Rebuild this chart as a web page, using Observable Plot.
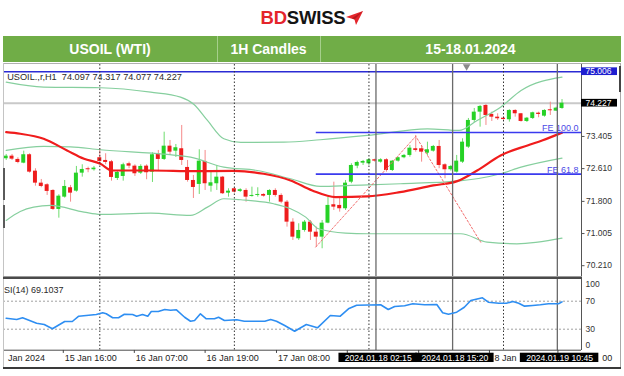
<!DOCTYPE html>
<html>
<head>
<meta charset="utf-8">
<script src="https://cdn.jsdelivr.net/npm/d3@7"></script>
<script src="https://cdn.jsdelivr.net/npm/@observablehq/plot@0.6"></script>
<style>
html,body{margin:0;padding:0;background:#fff;}
#root{position:relative;width:624px;height:376px;overflow:hidden;background:#fff;font-family:"Liberation Sans",Arial,sans-serif;}
.a{position:absolute;}
#logo{left:0;top:8px;width:624px;text-align:center;font-weight:bold;font-size:18.5px;line-height:20px;white-space:nowrap;letter-spacing:-0.2px;}
#logo .bd{color:#e4252b;} #logo .sw{color:#141414;}
#logo svg{vertical-align:-1px;margin-left:1px;}
#bar{left:3px;top:36px;width:618px;height:26px;background:#70ad47;}
.cell{position:absolute;top:0;height:26px;line-height:26px;text-align:center;color:#fff;font-weight:bold;font-size:14px;white-space:nowrap;}
.sep{position:absolute;top:0;width:1px;height:26px;background:#a6cf8c;}
.ln{position:absolute;}
</style>
</head>
<body>
<div id="root">
  <div id="logo" class="a"><span class="bd">BD</span><span class="sw">SWISS</span><svg width="17" height="14" viewBox="0 0 17 14"><polygon points="0,6 17,0 10,14 8.5,8.5" fill="#e4252b"/><polygon points="8.5,8.5 17,0 6,7.2" fill="#b51a1f"/></svg></div>
  <div id="bar" class="a"></div>
  <div id="mainWrap" class="a" style="left:0;top:62px;"></div>
  <div id="rsiWrap" class="a" style="left:0;top:278px;"></div>
  <!-- panel borders -->
  <div class="ln" style="left:3px;top:63px;width:618px;height:1px;background:#b0b0b0;"></div>
  <div class="ln" style="left:3px;top:63px;width:1px;height:305px;background:#c4c4c4;"></div>
  <div class="ln" style="left:3px;top:168px;width:2px;height:32px;background:#5a5a5a;"></div>
  <div class="ln" style="left:3px;top:205px;width:2px;height:23px;background:#5a5a5a;"></div>
  <div class="ln" style="left:3px;top:276px;width:579px;height:1px;background:#9a9a9a;"></div>
  <div class="ln" style="left:3px;top:277px;width:579px;height:2px;background:#4a4a4a;"></div>
  <div class="ln" style="left:620px;top:63px;width:1px;height:305px;background:#a8a8a8;"></div>
  <div class="ln" style="left:619px;top:66px;width:2px;height:26px;background:#444;"></div>
  <div class="ln" style="left:3px;top:367px;width:618px;height:2px;background:#3a3a3a;"></div>
</div>
<script>
// ---------- header ----------
const headerCells = ["USOIL (WTI)", "1H Candles", "15-18.01.2024"];

// ---------- candles (1H, USOIL) ----------
const open  = [72.854,72.918,72.837,72.745,72.953,72.547,72.251,72.211,72.070,71.601,71.905,72.137,72.053,72.498,72.607,72.582,
72.879,72.812,72.780,72.367,72.416,72.730,72.671,72.498,72.671,72.523,72.977,72.837,73.165,73.042,73.101,72.639,72.317,72.219,72.787,72.176,72.236,72.399,72.004,
72.112,72.046,72.070,71.922,71.947,71.971,71.947,72.070,71.947,71.781,71.287,70.876,71.081,71.287,71.039,70.916,71.262,71.717,71.700,71.618,72.275,72.671,72.745,
72.730,72.829,72.770,72.829,72.564,72.795,72.879,72.936,73.101,73.101,72.992,73.042,73.158,72.705,72.582,72.523,72.770,73.141,73.801,74.006,74.171,73.949,73.882,
73.857,73.818,74.048,73.966,73.776,73.850,73.981,73.907,74.065,74.031,74.097];
const high  = [72.960,72.960,72.879,73.042,72.977,72.607,72.342,72.236,72.088,71.964,72.317,72.194,72.664,72.705,72.646,72.664,
73.101,72.977,72.812,72.564,72.745,72.770,72.705,72.705,72.705,73.002,73.059,73.511,73.306,73.207,73.677,72.812,72.441,73.076,73.059,72.564,72.688,72.416,72.112,
72.137,72.112,72.112,72.152,72.137,71.989,72.088,72.112,71.989,71.823,71.371,71.247,71.328,71.328,71.163,71.328,71.905,72.275,71.905,72.317,72.730,72.795,72.812,
72.854,72.844,72.854,72.854,72.812,72.893,72.960,73.183,73.430,73.183,73.264,73.183,73.306,72.730,72.688,72.936,73.348,73.850,74.097,74.171,74.196,74.006,73.966,
73.882,74.065,74.065,73.974,73.875,74.006,74.006,74.065,74.253,74.129,74.317];
const low   = [72.812,72.812,72.730,72.730,72.498,72.176,72.137,71.947,71.576,71.385,71.880,71.781,72.028,72.399,72.508,72.547,
72.730,72.705,72.300,72.317,72.300,72.607,72.416,72.466,72.335,72.268,72.547,72.812,72.936,72.886,72.688,72.275,71.872,71.971,72.070,72.028,72.070,71.971,71.905,
72.004,72.021,71.781,71.905,71.905,71.905,71.781,71.905,71.741,71.163,70.834,70.834,71.039,70.834,70.669,70.629,71.247,71.576,71.534,71.576,72.236,72.607,72.688,
72.688,72.770,72.745,72.523,72.540,72.770,72.854,72.893,73.017,72.770,72.936,73.017,72.607,72.359,72.547,72.498,72.738,73.109,73.751,73.635,73.677,73.776,73.801,
73.801,73.759,73.882,73.759,73.751,73.825,73.867,73.882,73.924,74.023,74.077];
const close = [72.918,72.844,72.762,72.953,72.523,72.251,72.169,72.046,71.601,71.929,72.169,72.004,72.498,72.589,72.582,72.622,
72.787,72.762,72.392,72.515,72.705,72.671,72.483,72.664,72.508,72.953,72.837,73.165,73.017,73.126,72.812,72.317,72.144,72.795,72.236,72.260,72.399,71.989,72.053,
72.028,72.088,71.905,71.947,71.971,71.929,72.070,71.947,71.781,71.287,70.916,71.081,71.287,71.039,70.916,71.262,71.700,71.658,71.618,72.251,72.688,72.762,72.787,
72.829,72.795,72.829,72.564,72.795,72.879,72.936,73.116,73.059,73.017,73.076,73.158,72.688,72.582,72.664,72.795,73.264,73.801,74.006,74.147,73.924,73.882,73.843,
73.825,74.048,73.966,73.776,73.857,73.991,73.949,74.048,74.040,74.105,74.227];

// ---------- indicators: [bar index, value] ----------
const maPts = [[0,73.511],[2.4,73.472],[6.4,73.348],[10.4,73.059],[13.3,72.854],[16.1,72.730],[18.1,72.564],[24.7,72.564],[32.4,72.547],[38.9,72.552],[44,72.483],[48.6,72.317],[52.3,72.070],[56.3,71.905],[61.7,71.922],[67.3,72.028],[73,72.194],[77.1,72.300],[80.5,72.564],[84.5,72.935],[89.1,73.183],[91.6,73.306],[95,73.500]];
const bbUpper = [[0,74.747],[6.4,74.624],[16.1,74.609],[24.7,74.500],[29.8,74.377],[32.1,74.196],[34.4,73.801],[37.2,73.348],[40.1,73.257],[47.5,73.264],[53.7,73.324],[61.7,73.430],[72,73.595],[77.4,73.553],[80.5,73.801],[84.5,74.129],[88,74.542],[95,74.870]];
const bbMiddle = [[0,73.059],[6.4,73.160],[11,73.150],[16.1,73.076],[27.5,72.960],[31.5,72.893],[37.2,72.646],[42.9,72.564],[48.6,72.359],[53.7,72.169],[58.9,72.194],[67.4,72.236],[77.1,72.300],[84.5,72.483],[88,72.646],[95,72.870]];
const bbLower = [[0,71.330],[2.4,71.550],[4.7,71.658],[7.6,71.700],[13.3,71.534],[16.1,71.477],[24.7,71.509],[31.5,71.452],[34.4,71.658],[37.2,71.865],[40.1,71.840],[45.7,71.741],[48.6,71.618],[51.2,71.411],[53.4,71.123],[58,71.015],[61.8,71.000],[77.7,71.000],[82.2,70.792],[87.3,70.752],[95,70.890]];
const rsiPts = [[0,45.7],[1.8,43.9],[2.8,46.3],[5.2,38.6],[6.5,36.7],[7.9,30.6],[10,41],[11.3,41],[12.4,48.6],[15.4,51],[16.5,53.4],[17.1,52],[18.2,46.3],[19.2,46.3],[20.2,51.4],[21.6,51],[22.3,48.6],[23.3,51],[24.2,48.6],[24.8,55.3],[26,55.3],[27.1,58.1],[28.1,57.1],[29.1,57.7],[30.5,47.1],[31.5,41.4],[32.2,42.4],[33.2,52],[34.2,44.9],[35.6,44.9],[36.3,47.1],[37.3,42.4],[39.4,43.4],[40.7,41.4],[44.2,41.4],[45.2,43.9],[46.2,41.4],[47.6,35.3],[49.3,27.1],[51.3,36.7],[53.2,32],[55.4,49.6],[57.1,48.6],[58.5,59.1],[59.9,64.3],[64,64.9],[65.3,58.1],[66.4,62.4],[68.1,63.4],[69.5,66.3],[71.5,64.9],[73.6,65.3],[74.6,53.4],[75.6,51.4],[77,54.3],[78.3,61.4],[79.4,71],[81.4,74.9],[82.4,68.6],[84.2,67.1],[85.5,67.1],[86.6,69.6],[87.6,67.1],[88.6,62.9],[90,63.9],[91.3,64.9],[92.7,66.3],[94.4,66.3],[95,69.1]];
const rsiLabelText = "SI(14) 69.1037";
const rsiLevels = [70, 30];

// ---------- objects ----------
const alertLevel = 75.006;
const feLabels = ["FE 100.0", "FE 61.8"];
const feLevels = [73.504, 72.473];
const feStart = 53.0;
const fibIdx = [52.9, 70.0, 81.1];
const fibPrice = [70.67, 73.41, 70.79];
const daySeps = [16, 39, 62, 85];
const vLineIdx = [63.2, 76.3, 94.2];
const vLineLabels = ["2024.01.18 02:15", "2024.01.18 15:20", "2024.01.19 10:45"];
const priceTicks = [73.405, 72.610, 71.800, 71.005, 70.210];
const rsiTicks = [100, 70, 30, 0];
// time-axis ticks and the part of each label that is visible
const tickIdx  = [9.76, 21.9, 34.0, 46.2, 58.3, 70.5, 82.6, 94.3];
const labelIdx = [0.05, 9.76, 21.9, 34.0, 46.2, 83.2, 101.6];
const labelText = ["Jan 2024","15 Jan 16:00","16 Jan 07:00","16 Jan 19:00","17 Jan 08:00","8 Jan","00"];
const shiftMarkIdx = [78.7];

// ---------- header DOM ----------
const bar = document.getElementById("bar");
const cellEdges = [0, 214, 317, 618];
headerCells.forEach((t, k) => {
  const c = document.createElement("div");
  c.className = "cell";
  c.style.left = cellEdges[k] + "px";
  c.style.width = (cellEdges[k+1] - cellEdges[k]) + "px";
  c.textContent = t;
  bar.appendChild(c);
  if (k > 0) { const s = document.createElement("div"); s.className = "sep"; s.style.left = cellEdges[k] + "px"; bar.appendChild(s); }
});

// ---------- shared ----------
const X0 = -0.46, X1 = 98.33;
const pxPerIdx = 578 / (X1 - X0);
const font = '"Liberation Sans", Arial, sans-serif';
const candles = d3.range(open.length).map(i => ({i, o: open[i], h: high[i], l: low[i], c: close[i]}));
const up = candles.filter(d => d.c >= d.o), dn = candles.filter(d => d.c < d.o);
const pts = arr => arr.map(([i, v]) => ({i, v}));
const BW = 0.34;
const fe = feLevels.map((p, k) => ({p, label: feLabels[k], from: feStart}));
const fib = fibIdx.map((i, k) => ({i, p: fibPrice[k]}));
const last = candles[candles.length - 1];
const headerLabel = `USOIL.,r,H1  ${last.o.toFixed(3)} ${last.h.toFixed(3)} ${last.l.toFixed(3)} ${last.c.toFixed(3)}`;
const vMarks = vLineIdx.map((i, k) => ({i, label: vLineLabels[k]}));
const timeLabels = labelIdx.map((i, k) => ({i, label: labelText[k]}));
const bandStyle = {x: "i", y: "v", stroke: "#86cf9e", strokeWidth: 1.2, curve: "monotone-x"};

// ---------- main price panel ----------
const mainPlot = Plot.plot({
  width: 624, height: 216, marginTop: 2, marginBottom: 0, marginLeft: 3, marginRight: 43,
  x: {domain: [X0, X1], axis: null},
  y: {domain: [70.210, 75.006], range: [203.2, 9.2], axis: null},
  style: {fontFamily: font, fontSize: "9px", background: "white", color: "#222"},
  marks: [
    Plot.ruleY([last.c], {stroke: "#c9c9c9", strokeWidth: 2}),
    Plot.ruleX(up, {x: "i", y1: "l", y2: "h", stroke: "#6edc6e"}),
    Plot.ruleX(dn, {x: "i", y1: "l", y2: "h", stroke: "#f58a8a"}),
    Plot.rect(up, {x1: d => d.i - BW, x2: d => d.i + BW, y1: "o", y2: "c", fill: "#26d226"}),
    Plot.rect(dn, {x1: d => d.i - BW, x2: d => d.i + BW, y1: "o", y2: "c", fill: "#ee1c1c"}),
    Plot.line(pts(bbUpper), bandStyle),
    Plot.line(pts(bbMiddle), bandStyle),
    Plot.line(pts(bbLower), bandStyle),
    Plot.line(pts(maPts), {x: "i", y: "v", stroke: "#f01c1c", strokeWidth: 2.2, curve: "monotone-x"}),
    Plot.line(fib, {x: "i", y: "p", stroke: "#f26d6d", strokeWidth: 1, strokeDasharray: "2,2"}),
    Plot.ruleY([alertLevel], {stroke: "#2b2bd4", strokeWidth: 1.5}),
    Plot.ruleY(fe, {y: "p", x1: "from", x2: () => X1, stroke: "#3a3aee", strokeWidth: 1.6}),
    Plot.text(fe, {x: () => X1, y: "p", text: "label", textAnchor: "end", dx: -3, dy: -4.5, fill: "#4a4ae6", fontSize: 9}),
    Plot.ruleX(daySeps, {stroke: "#333", strokeDasharray: "1.5,2"}),
    Plot.ruleX(vLineIdx, {stroke: "#6a6a6a", strokeWidth: 1.3}),
    Plot.ruleX([X1], {stroke: "#555"}),
    Plot.axisY({anchor: "right", ticks: priceTicks, tickSize: 2.5, tickPadding: 2, tickFormat: d => d.toFixed(3), fontSize: 8.5, fill: "#333", stroke: "#555"}),
    Plot.rect([alertLevel], {x1: () => X1, x2: () => X1 + 36 / pxPerIdx, y1: d => d - 0.095, y2: d => d + 0.095, fill: "#1f1fd0"}),
    Plot.text([alertLevel], {x: () => X1, y: d => d, text: d => d.toFixed(3), dx: 4, textAnchor: "start", fill: "white", fontSize: 8.5}),
    Plot.rect([last.c], {x1: () => X1, x2: () => X1 + 36 / pxPerIdx, y1: d => d - 0.095, y2: d => d + 0.095, fill: "black"}),
    Plot.text([last.c], {x: () => X1, y: d => d, text: d => d.toFixed(3), dx: 4, textAnchor: "start", fill: "white", fontSize: 8.5}),
    Plot.dot(shiftMarkIdx, {x: d => d, y: () => 75.135, symbol: "triangle", r: 2.8, fill: "#8a8a8a", rotate: 180}),
    Plot.text([headerLabel], {frameAnchor: "top-left", text: d => d, dx: 3.7, dy: 8.7, textAnchor: "start", fill: "#2a2a2a", fontSize: 9.2})
  ]
});
mainPlot.style.clipPath = "inset(0px 0px 0px 3px)";
document.getElementById("mainWrap").appendChild(mainPlot);

// ---------- RSI panel + time axis ----------
const ROW = {tickTop: -0.4, tickBot: -4.6, text: -10.9, boxTop: -4.3, boxBot: -17.6};
const boxL = 37 / pxPerIdx, boxR = 41.5 / pxPerIdx;
const rsiPlot = Plot.plot({
  width: 624, height: 98, marginTop: 0, marginBottom: 26, marginLeft: 3, marginRight: 43,
  x: {domain: [X0, X1], axis: null},
  y: {domain: [0, 100], range: [71.7, 1.7], axis: null},
  style: {fontFamily: font, fontSize: "9px", background: "white", color: "#222"},
  marks: [
    Plot.ruleY(rsiLevels, {stroke: "#a0a0a0", strokeDasharray: "2,2"}),
    Plot.ruleX(daySeps, {stroke: "#333", strokeDasharray: "1.5,2"}),
    Plot.ruleX(vLineIdx, {stroke: "#6a6a6a", strokeWidth: 1.3}),
    Plot.line(pts(rsiPts), {x: "i", y: "v", stroke: "#2e8ef2", strokeWidth: 1.6}),
    Plot.ruleX([X1], {stroke: "#555"}),
    Plot.ruleY([0], {stroke: "#4a4a4a"}),
    Plot.text(rsiTicks.filter(v => v > 0 && v < 100), {x: () => X1, y: d => d, text: d => String(d), dx: 4, textAnchor: "start", fontSize: 8.5, fill: "#333"}),
    Plot.text(rsiTicks.filter(v => v === 100), {x: () => X1, y: d => d, text: d => String(d), dx: 4, dy: 4.3, textAnchor: "start", fontSize: 8.5, fill: "#333"}),
    Plot.text(rsiTicks.filter(v => v === 0), {x: () => X1, y: d => d, text: d => String(d), dx: 4, dy: -5, textAnchor: "start", fontSize: 8.5, fill: "#333"}),
    Plot.text([rsiLabelText], {frameAnchor: "top-left", text: d => d, dx: 0.5, dy: 7.7, textAnchor: "start", fill: "#2a2a2a", fontSize: 9}),
    Plot.ruleX(tickIdx, {x: d => d, y1: () => ROW.tickTop, y2: () => ROW.tickBot, stroke: "#444"}),
    Plot.text(timeLabels, {x: "i", y: () => ROW.text, text: "label", textAnchor: "start", dx: 1.5, fontSize: 9, fill: "#222"}),
    Plot.rect(vMarks, {x1: d => d.i - boxL, x2: d => d.i + boxR, y1: () => ROW.boxTop, y2: () => ROW.boxBot, fill: "black"}),
    Plot.text(vMarks, {x: "i", y: () => ROW.text, text: "label", dx: 2.25, fill: "white", fontSize: 8.6})
  ]
});
rsiPlot.style.clipPath = "inset(0px 0px 0px 3px)";
document.getElementById("rsiWrap").appendChild(rsiPlot);
</script>
</body>
</html>
